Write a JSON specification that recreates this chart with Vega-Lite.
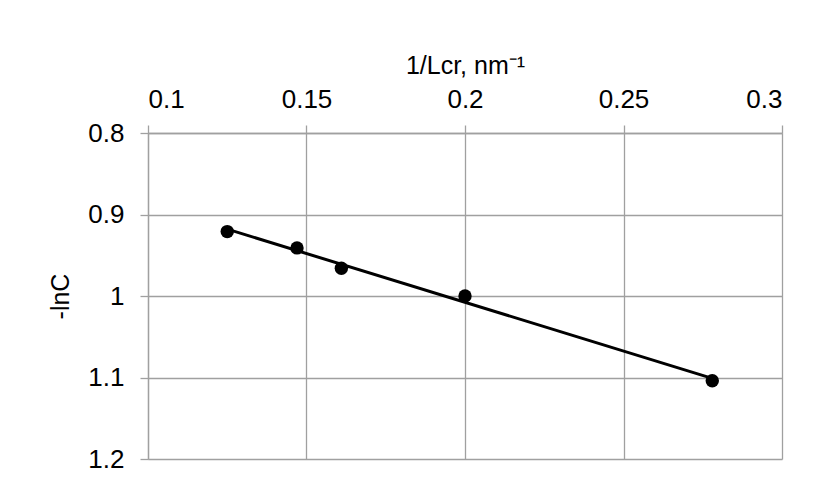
{
  "$schema": "https://vega.github.io/schema/vega-lite/v6.json",
  "width": 634,
  "height": 326,
  "autosize": {"type": "none"},
  "padding": {"left": 148, "top": 133, "right": 35, "bottom": 24},
  "background": "white",
  "config": {
    "view": {"stroke": null},
    "font": "Liberation Sans",
    "axis": {
      "labelFont": "Liberation Sans",
      "titleFont": "Liberation Sans",
      "labelFontSize": 26,
      "titleFontSize": 25,
      "titleFontWeight": "normal",
      "labelColor": "#000000",
      "titleColor": "#000000",
      "gridColor": "#a0a0a0",
      "gridWidth": 1.3,
      "gridOpacity": 1,
      "domainColor": "#a0a0a0",
      "domainWidth": 1.3,
      "tickColor": "#a0a0a0",
      "tickWidth": 1.3,
      "tickSize": 8
    }
  },
  "layer": [
    {
      "data": {"values": [
        {"x": 0.125, "y": 0.918},
        {"x": 0.278, "y": 1.101}
      ]},
      "mark": {"type": "line", "color": "#000000", "strokeWidth": 3},
      "encoding": {
        "x": {"field": "x", "type": "quantitative",
          "scale": {"domain": [0.1, 0.3], "nice": false, "zero": false},
          "axis": {"orient": "top", "title": "1/Lcr, nm⁻¹", "values": [0.1, 0.15, 0.2, 0.25, 0.3], "format": ".2~f", "labelPadding": 13, "titlePadding": 8}},
        "y": {"field": "y", "type": "quantitative",
          "scale": {"domain": [0.8, 1.2], "reverse": true, "nice": false, "zero": false},
          "axis": {"title": "-lnC", "values": [0.8, 0.9, 1.0, 1.1, 1.2], "format": ".1~f", "labelPadding": 16, "titlePadding": 14}}
      }
    },
    {
      "data": {"values": [
        {"x": 0.125, "y": 0.921},
        {"x": 0.147, "y": 0.941},
        {"x": 0.161, "y": 0.966},
        {"x": 0.2, "y": 1.0},
        {"x": 0.278, "y": 1.104}
      ]},
      "mark": {"type": "point", "filled": true, "color": "#000000", "opacity": 1, "size": 180},
      "encoding": {
        "x": {"field": "x", "type": "quantitative"},
        "y": {"field": "y", "type": "quantitative"}
      }
    }
  ]
}
